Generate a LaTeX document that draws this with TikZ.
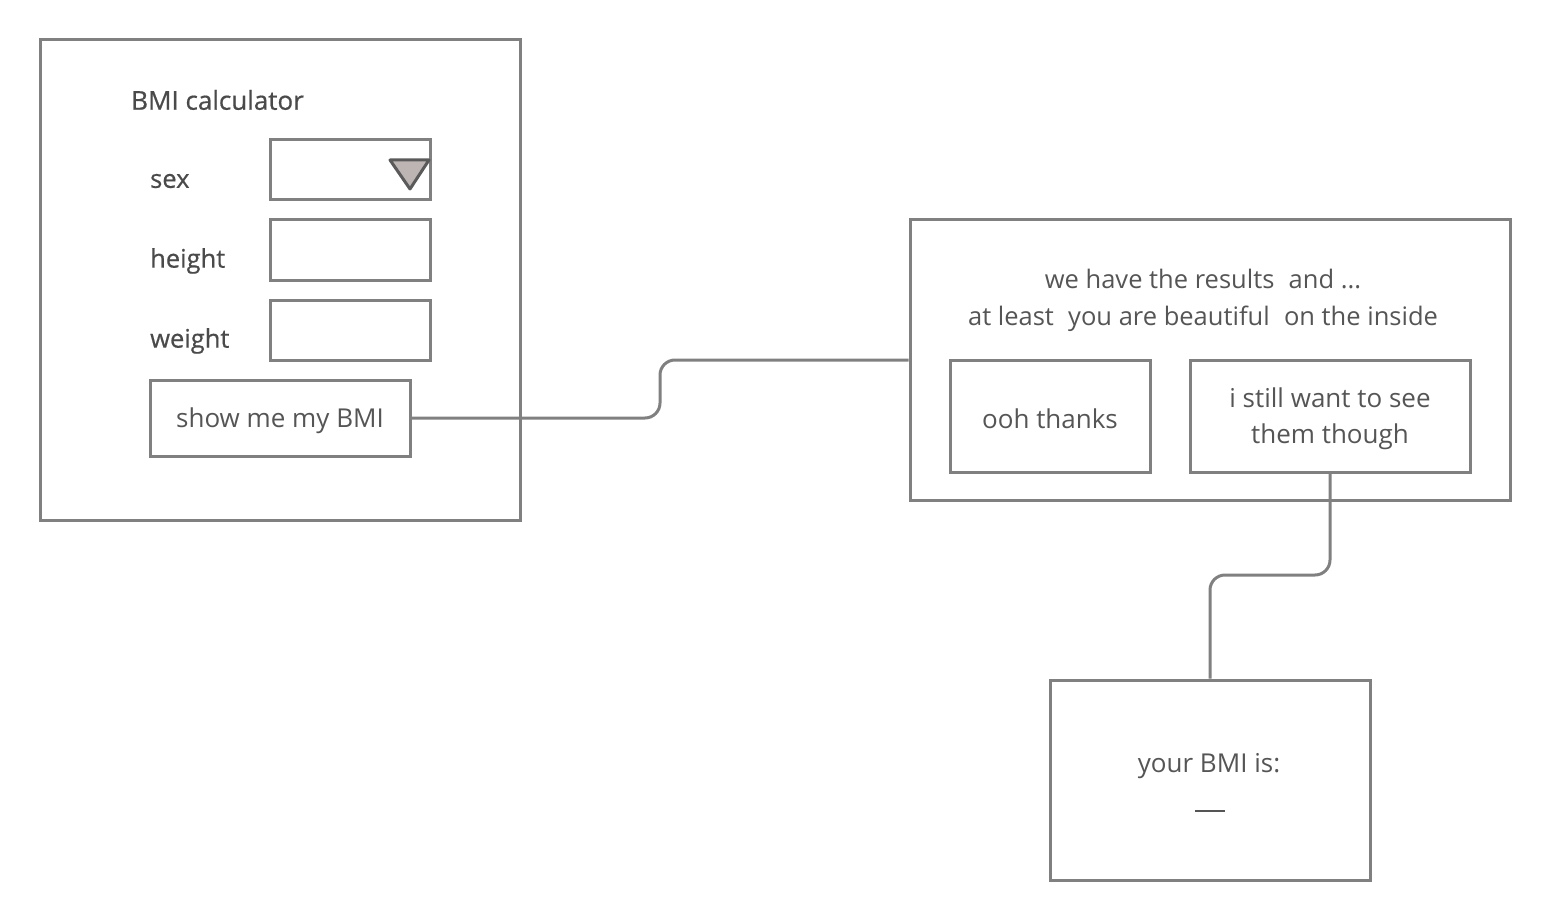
\documentclass[tikz,border=0pt]{standalone}
\usepackage{fontspec}
\setmainfont{Open Sans}
\newfontfamily\labfont[FakeBold=0.6]{Open Sans}
\definecolor{linec}{HTML}{808080}
\definecolor{txt}{HTML}{555555}
\definecolor{lbl}{HTML}{4A4A4A}
\definecolor{trif}{HTML}{BDB5B3}
\definecolor{tris}{HTML}{5A5A5A}
\tikzset{
  box/.style={draw=linec, line width=3pt, rectangle, inner sep=0pt},
  lab/.style={text=lbl, anchor=west, inner sep=0pt, font=\labfont\fontsize{25.5}{30}\selectfont},
  conn/.style={draw=linec, line width=3pt, rounded corners=15pt},
  txtn/.style={text=txt, align=center, inner sep=0pt, font=\fontsize{26}{36}\selectfont},
  inlab/.style={label={[txtn, yshift=-3pt]center:#1}}
}
\begin{document}
\begin{tikzpicture}[x=1pt,y=-1pt]
\useasboundingbox (0,0) rectangle (1550,920);
\node[box, minimum width=480pt, minimum height=480pt] (outer) at (280,280) {};
\node[lab, font=\labfont\fontsize{26}{30}\selectfont] (title) at (131,100) {BMI calculator};
\node[lab] (sexl) at (150,181) {sex};
\node[lab] (heightl) at (150,261) {height};
\node[lab] (weightl) at (150,341) {weight};
\node[box, minimum width=160pt, minimum height=60pt] (sexb) at (350,170) {};
\node[box, minimum width=160pt, minimum height=60pt] (heightb) at (350,250) {};
\node[box, minimum width=160pt, minimum height=60pt] (weightb) at (350,330) {};
\draw[fill=trif, draw=tris, line width=3pt, line join=round] (390,160) -- (429,160) -- (410,189) -- cycle;
\node[box, minimum width=260pt, minimum height=76pt, inlab={show me my BMI}] (btn) at (280,418) {};
\node[box, minimum width=600pt, minimum height=280pt] (res) at (1210,360) {};
\node[txtn, font=\fontsize{25.5}{37}\selectfont] (restext) at (1203,300) {we have the results\hspace{0.3em} and ...\\at least\hspace{0.3em} you are beautiful\hspace{0.3em} on the inside};
\node[box, minimum width=200pt, minimum height=112pt, inlab={ooh thanks}] (ooh) at (1050,416) {};
\node[box, minimum width=280pt, minimum height=112pt, inlab={i still want to see\\them though}] (still) at (1330,416) {};
\node[box, minimum width=320pt, minimum height=200pt] (bmi) at (1210,780) {};
\node[txtn] (bmitext) at (1209,766) {your BMI is:};
\draw[draw=txt, line width=2pt] (1195,811) -- (1225,811);
\draw[conn] (btn.east) -| (660,360) -- (res.west);
\draw[conn] (still.south) |- (1210,575) -- (bmi.north);
\end{tikzpicture}
\end{document}
